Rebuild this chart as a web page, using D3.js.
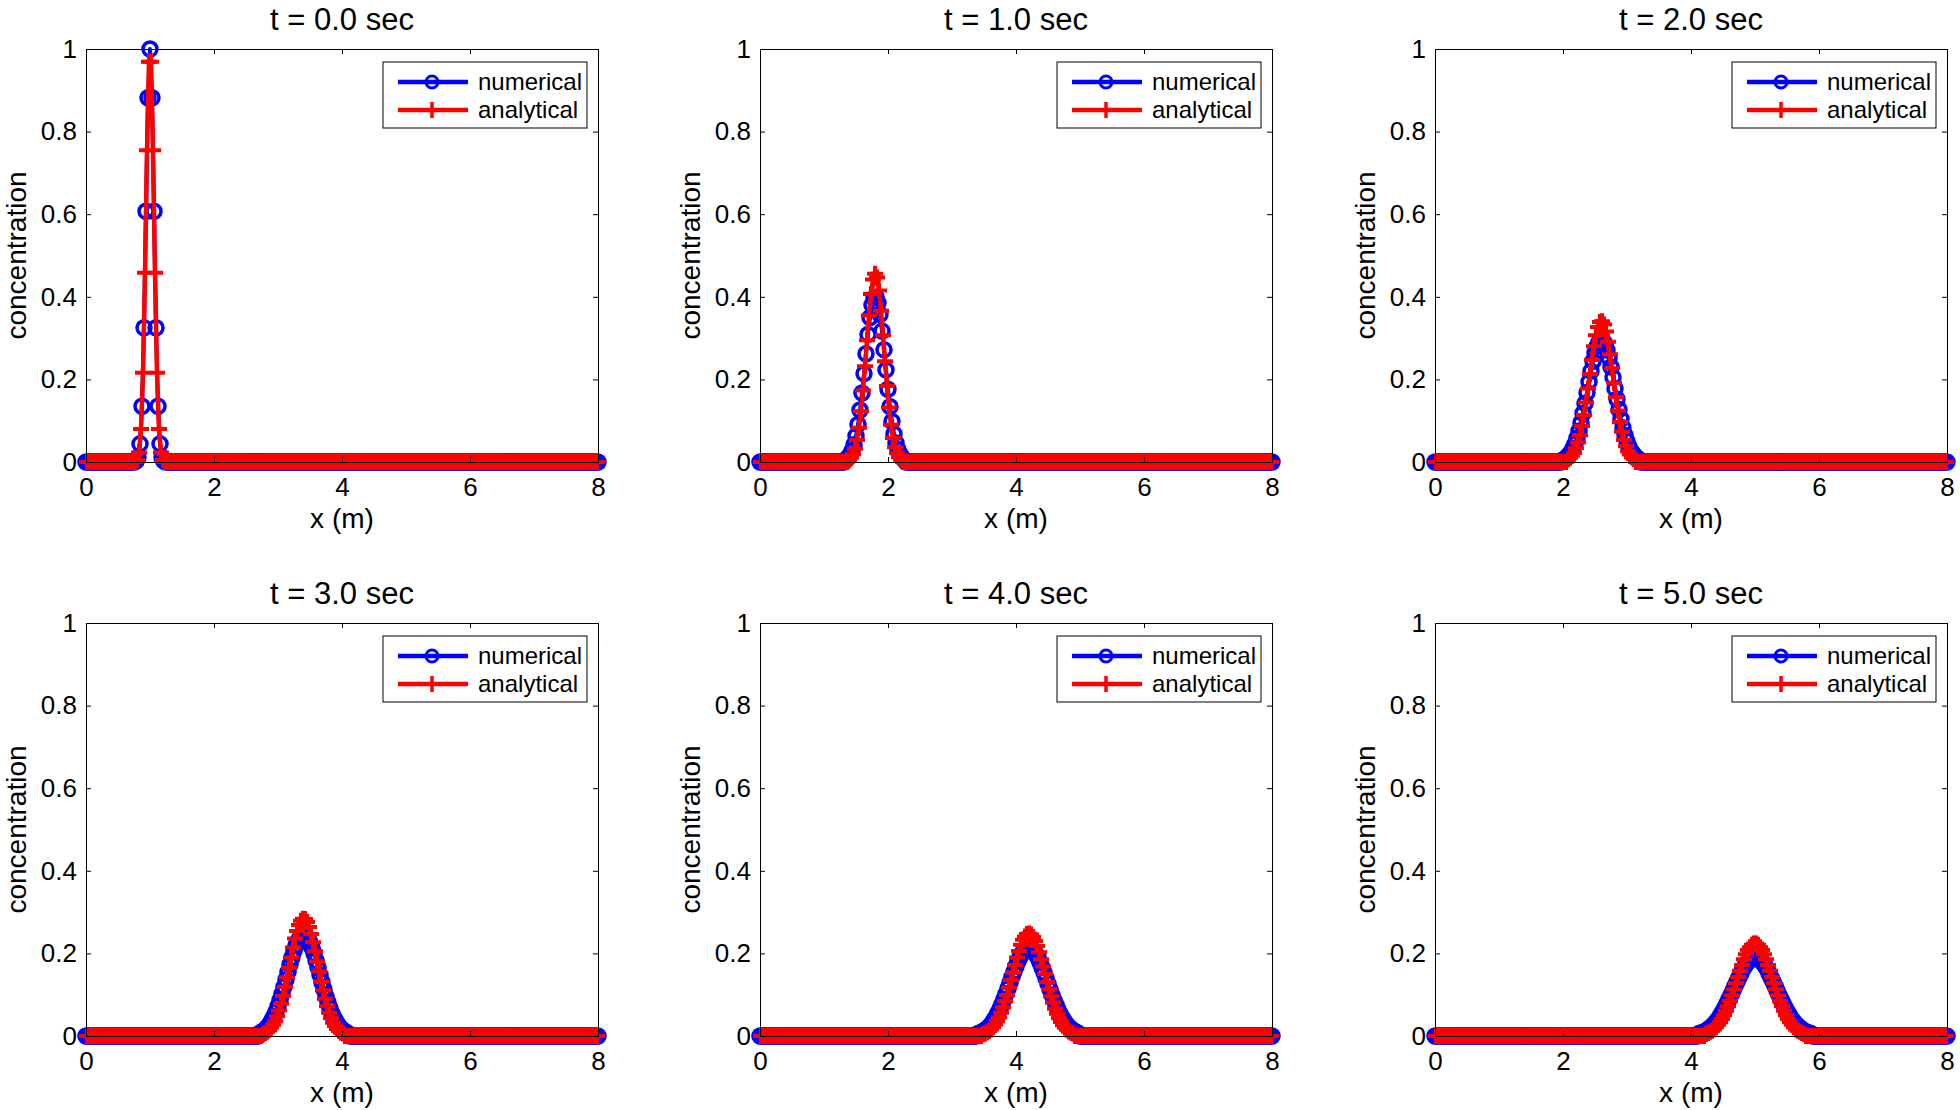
<!DOCTYPE html>
<html><head><meta charset="utf-8">
<script src="https://cdn.jsdelivr.net/npm/d3@7"></script>
<style>
html,body{margin:0;padding:0;background:#fff;}
svg{display:block;font-family:"Liberation Sans",Arial,Helvetica,sans-serif;}
</style></head><body>
<svg id="chart" width="1960" height="1110"></svg>
<script>
// ---------------- data ----------------
const titles = ["t = 0.0 sec","t = 1.0 sec","t = 2.0 sec","t = 3.0 sec","t = 4.0 sec","t = 5.0 sec"];
const seriesNames = ["numerical","analytical"];
const xTicks = [0,2,4,6,8];
const yTicks = [0,0.2,0.4,0.6,0.8,1];
const yTickLabels = ["0","0.2","0.4","0.6","0.8","1"];
const xLabel = "x (m)";
const yLabel = "concentration";
const xDomain = [0,8];
const dx = 0.03125;          // grid spacing of the samples (m)
// x of first listed sample of each peak (outside the listed values the curves sit at 0)
const numStart = [0.78125, 1.34375, 2.0, 2.71875, 3.40625, 4.125];
const anaStart = [0.796875, 1.390625, 2.078125, 2.765625, 3.484375, 4.234375];

const numT0 = [0.002,0.011,0.044,0.135,0.325,0.607,0.882,1.000,0.882,0.607,0.325,0.135,0.044,0.011,0.002];
const anaT0 = [0.005,0.023,0.080,0.216,0.458,0.755,0.969,0.969,0.755,0.458,0.216,0.080,0.023,0.005];
const numT1 = [0.006,0.010,0.017,0.027,0.042,0.063,0.091,0.126,0.167,0.214,0.262,0.309,0.350,0.380,0.397,0.399,0.385,0.357,0.317,0.272,0.223,0.176,0.134,0.098,0.068,0.046,0.030,0.019,0.011,0.006];
const anaT1 = [0.005,0.010,0.019,0.032,0.053,0.083,0.123,0.173,0.232,0.295,0.355,0.407,0.442,0.456,0.447,0.415,0.366,0.307,0.244,0.184,0.132,0.090,0.058,0.036,0.021,0.012,0.006];
const numT2 = [0.005,0.008,0.012,0.017,0.024,0.033,0.044,0.058,0.075,0.095,0.118,0.142,0.168,0.194,0.220,0.244,0.264,0.280,0.290,0.295,0.293,0.285,0.271,0.252,0.230,0.205,0.178,0.152,0.127,0.104,0.083,0.065,0.050,0.037,0.027,0.020,0.014,0.009,0.006];
const anaT2 = [0.006,0.010,0.015,0.022,0.033,0.047,0.065,0.087,0.114,0.144,0.178,0.213,0.247,0.280,0.307,0.327,0.339,0.341,0.333,0.316,0.291,0.261,0.227,0.192,0.157,0.125,0.097,0.073,0.053,0.038,0.026,0.018,0.011,0.007];
const numT3 = [0.007,0.010,0.013,0.018,0.023,0.030,0.038,0.048,0.059,0.072,0.087,0.102,0.119,0.137,0.155,0.173,0.190,0.206,0.219,0.230,0.238,0.243,0.244,0.241,0.235,0.226,0.214,0.200,0.183,0.166,0.148,0.130,0.113,0.096,0.081,0.067,0.054,0.044,0.035,0.027,0.021,0.016,0.012,0.009,0.006];
const anaT3 = [0.005,0.007,0.010,0.014,0.020,0.027,0.036,0.048,0.062,0.078,0.097,0.119,0.142,0.166,0.190,0.214,0.236,0.254,0.269,0.279,0.284,0.283,0.276,0.264,0.247,0.227,0.205,0.181,0.156,0.132,0.110,0.090,0.072,0.056,0.043,0.032,0.024,0.017,0.012,0.008,0.006];
const numT4 = [0.006,0.007,0.010,0.012,0.016,0.020,0.025,0.031,0.038,0.046,0.056,0.066,0.077,0.089,0.102,0.115,0.129,0.143,0.156,0.169,0.181,0.191,0.200,0.206,0.211,0.213,0.213,0.210,0.205,0.198,0.189,0.178,0.166,0.154,0.140,0.126,0.113,0.099,0.087,0.075,0.064,0.054,0.045,0.037,0.030,0.024,0.019,0.015,0.012,0.009,0.007];
const anaT4 = [0.004,0.006,0.009,0.012,0.016,0.021,0.028,0.036,0.045,0.056,0.069,0.084,0.099,0.117,0.135,0.154,0.172,0.190,0.206,0.221,0.233,0.241,0.247,0.248,0.246,0.240,0.230,0.218,0.203,0.186,0.168,0.150,0.131,0.113,0.096,0.081,0.066,0.054,0.043,0.034,0.026,0.020,0.015,0.011,0.008,0.006];
const numT5 = [0.006,0.007,0.009,0.011,0.014,0.018,0.021,0.026,0.031,0.037,0.044,0.052,0.060,0.069,0.079,0.089,0.099,0.110,0.121,0.132,0.142,0.152,0.162,0.170,0.177,0.182,0.187,0.189,0.190,0.189,0.187,0.182,0.177,0.170,0.162,0.152,0.142,0.132,0.121,0.110,0.099,0.089,0.079,0.069,0.060,0.052,0.044,0.037,0.031,0.026,0.021,0.018,0.014,0.011,0.009,0.007,0.006];
const anaT5 = [0.005,0.007,0.010,0.013,0.016,0.021,0.027,0.033,0.041,0.050,0.061,0.072,0.085,0.098,0.113,0.128,0.143,0.158,0.172,0.186,0.198,0.208,0.215,0.221,0.224,0.224,0.221,0.215,0.208,0.198,0.186,0.172,0.158,0.143,0.128,0.113,0.098,0.085,0.072,0.061,0.050,0.041,0.033,0.027,0.021,0.016,0.013,0.010,0.007,0.005];

const numSeries = [numT0,numT1,numT2,numT3,numT4,numT5];
const anaSeries = [anaT0,anaT1,anaT2,anaT3,anaT4,anaT5];

// ---------------- layout ----------------
const panelLeft = [86, 760, 1435];
const panelTop = [49, 623];
const W = 512, H = 413;
const BLUE = "#0000ff", RED = "#ff0000";

const svg = d3.select("#chart");

function buildSeries(values, start, offset, n) {
  return d3.range(n).map(i => {
    const xv = (i + offset) * dx;
    const j = Math.round((xv - start) / dx);
    return [xv, (j >= 0 && j < values.length) ? values[j] : 0];
  });
}
const plusPath = "M-8,0H8M0,-8V8";

titles.forEach((title, p) => {
  const col = p % 3, row = Math.floor(p / 3);
  const g = svg.append("g").attr("transform", `translate(${panelLeft[col]},${panelTop[row]})`);
  const x = d3.scaleLinear().domain(xDomain).range([0, W]);
  const y = d3.scaleLinear().domain([0, 1]).range([H, 0]);
  const nPts = Math.round((xDomain[1] - xDomain[0]) / dx);
  const num = buildSeries(numSeries[p], numStart[p], 0, nPts + 1);
  const ana = buildSeries(anaSeries[p], anaStart[p], 0.5, nPts);
  const line = d3.line().x(d => x(d[0])).y(d => y(d[1]));

  // numerical
  g.append("path").datum(num).attr("d", line)
    .attr("fill", "none").attr("stroke", BLUE).attr("stroke-width", 4).attr("stroke-linejoin", "round");
  g.append("g").selectAll("circle").data(num).join("circle")
    .attr("cx", d => x(d[0])).attr("cy", d => y(d[1])).attr("r", 7)
    .attr("fill", "none").attr("stroke", BLUE).attr("stroke-width", 3.5);
  // analytical
  g.append("path").datum(ana).attr("d", line)
    .attr("fill", "none").attr("stroke", RED).attr("stroke-width", 4.5).attr("stroke-linejoin", "round");
  g.append("g").selectAll("path").data(ana).join("path")
    .attr("d", plusPath).attr("transform", d => `translate(${x(d[0])},${y(d[1])})`)
    .attr("fill", "none").attr("stroke", RED).attr("stroke-width", 4);

  // axes (drawn on top)
  const styleAxis = sel => {
    sel.selectAll("path.domain").attr("stroke", "#000").attr("stroke-width", 1);
    sel.selectAll(".tick line").attr("stroke", "#000").attr("stroke-width", 1);
    sel.attr("font-family", null).attr("font-size", null);
    sel.selectAll("text").attr("fill", "#000").attr("font-size", 26);
  };
  g.append("g").attr("transform", `translate(0,${H})`)
    .call(d3.axisBottom(x).tickValues(xTicks).tickSizeInner(-5).tickSizeOuter(0).tickPadding(16).tickFormat(d3.format("d")))
    .call(styleAxis);
  g.append("g")
    .call(d3.axisTop(x).tickValues(xTicks).tickSizeInner(-5).tickSizeOuter(0).tickFormat(""))
    .call(styleAxis);
  g.append("g")
    .call(d3.axisLeft(y).tickValues(yTicks).tickSizeInner(-5).tickSizeOuter(0).tickPadding(9)
      .tickFormat((d, i) => yTickLabels[i]))
    .call(styleAxis);
  g.append("g").attr("transform", `translate(${W},0)`)
    .call(d3.axisRight(y).tickValues(yTicks).tickSizeInner(-5).tickSizeOuter(0).tickFormat(""))
    .call(styleAxis);

  // title and axis labels
  g.append("text").attr("x", W / 2).attr("y", -19).attr("text-anchor", "middle")
    .attr("font-size", 31).attr("fill", "#000").text(title);
  g.append("text").attr("x", W / 2).attr("y", H + 66).attr("text-anchor", "middle")
    .attr("font-size", 28).attr("fill", "#000").text(xLabel);
  g.append("text").attr("transform", `translate(-60,${H / 2}) rotate(-90)`).attr("text-anchor", "middle")
    .attr("font-size", 28).attr("fill", "#000").text(yLabel);

  // legend
  const lg = g.append("g").attr("transform", `translate(${W - 215},13)`);
  lg.append("rect").attr("width", 204).attr("height", 66).attr("fill", "#fff").attr("stroke", "#000").attr("stroke-width", 1);
  seriesNames.forEach((name, k) => {
    const ly = 20 + k * 28;
    const c = k === 0 ? BLUE : RED;
    lg.append("line").attr("x1", 15).attr("x2", 85).attr("y1", ly).attr("y2", ly)
      .attr("stroke", c).attr("stroke-width", 4.5);
    if (k === 0) {
      lg.append("circle").attr("cx", 49).attr("cy", ly).attr("r", 6)
        .attr("fill", "none").attr("stroke", c).attr("stroke-width", 3);
    } else {
      lg.append("path").attr("d", plusPath).attr("transform", `translate(49,${ly})`)
        .attr("fill", "none").attr("stroke", c).attr("stroke-width", 3.5);
    }
    lg.append("text").attr("x", 95).attr("y", ly).attr("dy", "0.35em")
      .attr("font-size", 24).attr("fill", "#000").text(name);
  });
});
</script>
</body></html>
